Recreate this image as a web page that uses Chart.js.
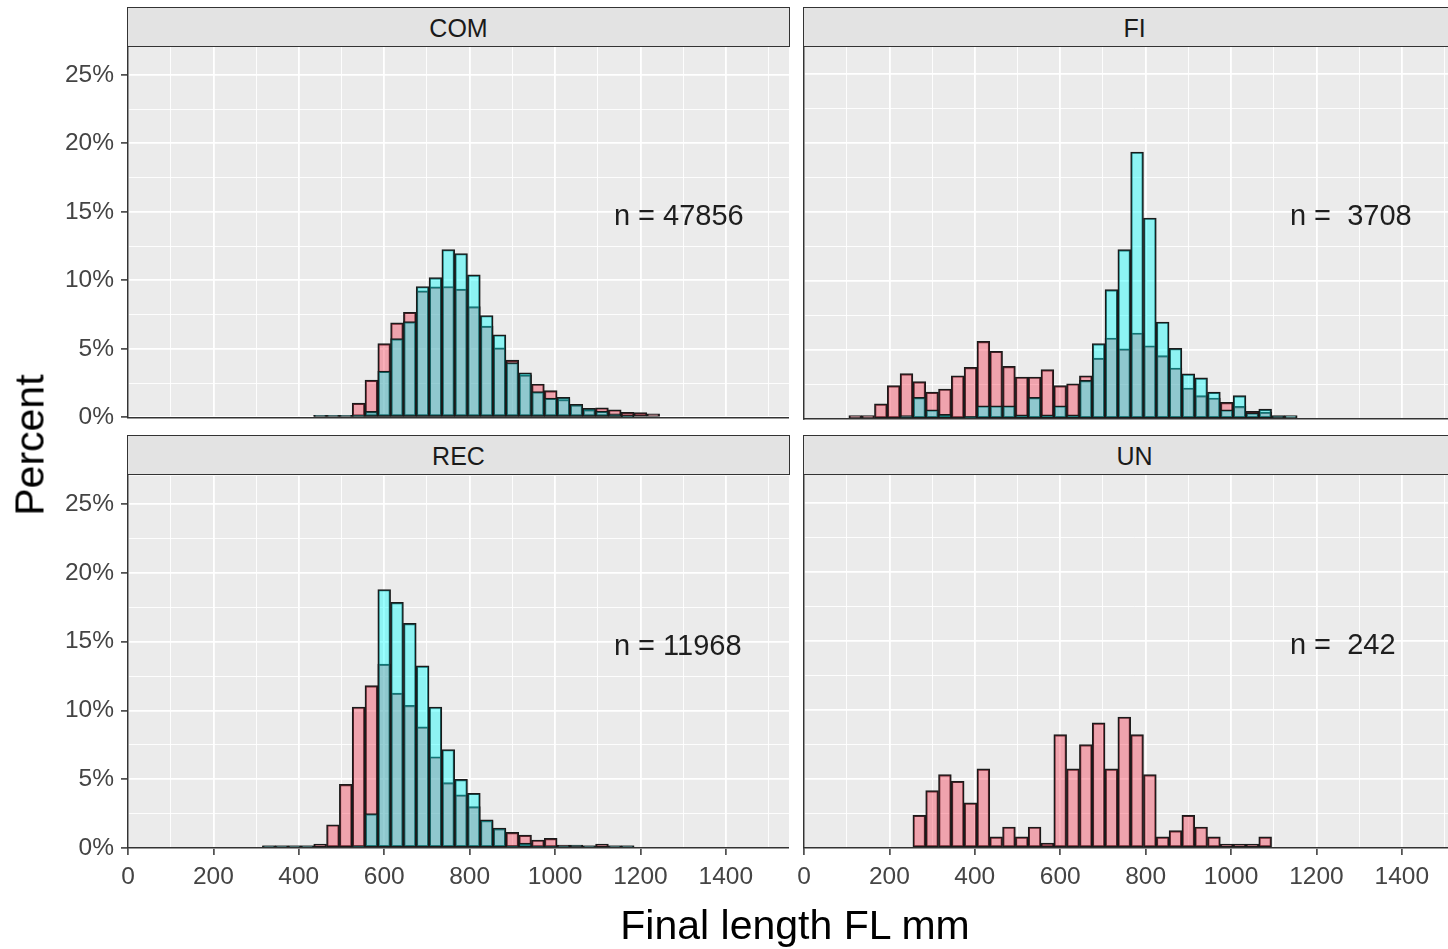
<!DOCTYPE html>
<html>
<head>
<meta charset="utf-8">
<script src="https://cdn.jsdelivr.net/npm/chart.js@4.4.0/dist/chart.umd.min.js"></script>
<style>
  html, body { margin: 0; padding: 0; background: #fff; }
  #wrap { position: relative; width: 1448px; height: 949px; overflow: hidden;
          font-family: "Liberation Sans", Arial, sans-serif; }
  canvas { position: absolute; }
  .strip { position: absolute; box-sizing: border-box; border: 1.5px solid #333;
           background: #e3e3e3; color: #1a1a1a; font-size: 25px; text-align: center;
           line-height: 41px; height: 40px; width: 663px; }
  .title { position: absolute; font-size: 41px; color: #000; white-space: nowrap;
           transform: translate(-50%, -50%); }
</style>
</head>
<body>
<div id="wrap">
  <canvas id="cCOM" width="789" height="414" style="left:0px;top:25px;width:789px;height:414px"></canvas>
  <canvas id="cFI" width="681" height="414" style="left:784px;top:25px;width:681px;height:414px"></canvas>
  <canvas id="cREC" width="789" height="454" style="left:0px;top:454px;width:789px;height:454px"></canvas>
  <canvas id="cUN" width="681" height="454" style="left:784px;top:454px;width:681px;height:454px"></canvas>
  <div class="title" style="left:30px;top:445px;transform:translate(-50%,-50%) rotate(-90deg)">Percent</div>
  <div class="title" style="left:795px;top:925px">Final length FL mm</div>
</div>
<script>
// facet names and n labels
const panels = ['COM', 'FI', 'REC', 'UN'];
const nLabels = ['n = 47856', 'n =  3708', 'n = 11968', 'n =  242'];

// tick labels
const xBreaks = [0, 200, 400, 600, 800, 1000, 1200, 1400];
const yBreaks = [0, 5, 10, 15, 20, 25];

// bin centres (30 mm bins) and percents, pink = first group, cyan = second group
const comBins = [450, 480, 510, 540, 570, 600, 630, 660, 690, 720, 750, 780, 810, 840, 870, 900, 930, 960, 990, 1020, 1050, 1080, 1110, 1140, 1170, 1200, 1230];
const comPink = [0.15, 0.15, 0.15, 1.03, 2.72, 5.38, 6.9, 7.67, 9.23, 9.52, 9.55, 9.36, 8.08, 6.66, 5.07, 4.17, 3.1, 2.43, 1.95, 1.3, 0.9, 0.55, 0.7, 0.55, 0.37, 0.35, 0.25];
const comCyan = [0.15, 0.15, 0.15, 0.15, 0.43, 3.37, 5.74, 6.99, 9.55, 10.2, 12.25, 11.96, 10.4, 7.43, 6.03, 4.0, 3.25, 1.88, 1.4, 1.45, 0.95, 0.65, 0.45, 0.25, 0.05, 0, 0];

const fiBins = [120, 150, 180, 210, 240, 270, 300, 330, 360, 390, 420, 450, 480, 510, 540, 570, 600, 630, 660, 690, 720, 750, 780, 810, 840, 870, 900, 930, 960, 990, 1020, 1050, 1080, 1110, 1140];
const fiPink = [0.24, 0.24, 1.1, 2.41, 3.28, 2.7, 1.95, 2.17, 3.13, 3.74, 5.62, 4.9, 3.81, 3.04, 3.04, 3.57, 2.41, 2.55, 3.13, 4.41, 5.86, 5.07, 6.22, 5.3, 4.58, 3.69, 2.24, 1.69, 1.52, 1.2, 0.91, 0.55, 0.5, 0.2, 0];
const fiCyan = [0, 0, 0, 0, 0.24, 1.57, 0.67, 0.33, 0.05, 0.2, 0.96, 0.96, 0.96, 0.31, 1.57, 0.31, 0.96, 0.31, 2.8, 5.45, 9.36, 12.25, 19.32, 14.54, 7.02, 5.11, 3.26, 2.97, 1.95, 0.67, 1.69, 0.45, 0.72, 0.24, 0.24];

const recBins = [330, 360, 390, 420, 450, 480, 510, 540, 570, 600, 630, 660, 690, 720, 750, 780, 810, 840, 870, 900, 930, 960, 990, 1020, 1050, 1080, 1110, 1140, 1170];
const recPink = [0.15, 0.15, 0.15, 0.15, 0.29, 1.69, 4.63, 10.25, 11.8, 13.36, 11.26, 10.37, 8.8, 6.63, 4.75, 3.86, 3.01, 2.0, 1.4, 1.13, 0.94, 0.58, 0.7, 0.22, 0.15, 0.15, 0.29, 0.15, 0.15];
const recCyan = [0.15, 0.15, 0.15, 0.15, 0.05, 0.05, 0.05, 0.15, 2.5, 18.79, 17.85, 16.33, 13.24, 10.25, 7.16, 4.99, 3.98, 2.05, 1.45, 0.15, 0.36, 0.1, 0.1, 0.15, 0.22, 0.15, 0.05, 0.15, 0.15];

const unBins = [270, 300, 330, 360, 390, 420, 450, 480, 510, 540, 570, 600, 630, 660, 690, 720, 750, 780, 810, 840, 870, 900, 930, 960, 990, 1020, 1050, 1080];
const unPink = [2.37, 4.15, 5.31, 4.83, 3.26, 5.72, 0.8, 1.52, 0.8, 1.52, 0.36, 8.2, 5.72, 7.48, 9.05, 5.72, 9.48, 8.2, 5.31, 0.8, 1.26, 2.37, 1.52, 0.8, 0.29, 0.29, 0.29, 0.8];

// strips
const stripPos = [[127, 6.5], [803, 6.5], [127, 434.5], [803, 434.5]];
const wrap = document.getElementById('wrap');
panels.forEach((p, i) => {
    const d = document.createElement('div');
    d.className = 'strip';
    d.style.left = stripPos[i][0] + 'px';
    d.style.top = stripPos[i][1] + 'px';
    d.textContent = p;
    wrap.appendChild(d);
});

const panelBg = {
    id: 'panelBg',
    beforeDraw(chart) {
        const {ctx, chartArea: a} = chart;
        ctx.save();
        ctx.fillStyle = '#ebebeb';
        ctx.fillRect(a.left, a.top, a.right - a.left, a.bottom - a.top);
        ctx.restore();
    }
};

const nLabel = {
    id: 'nLabel',
    afterDatasetsDraw(chart, args, opts) {
        const {ctx, scales} = chart;
        ctx.save();
        ctx.font = '29px "Liberation Sans", Arial, sans-serif';
        ctx.fillStyle = '#1e1e1e';
        ctx.textAlign = 'left';
        ctx.textBaseline = 'middle';
        ctx.fillText(opts.text, scales.x.getPixelForValue(1138), scales.y.getPixelForValue(15) + 5);
        ctx.restore();
    }
};

const tickFont = {family: '"Liberation Sans", Arial, sans-serif', size: 24.5};

function barSet(bins, vals, fill, order) {
    return {
        data: bins.map((b, i) => ({x: b, y: vals[i]})),
        backgroundColor: fill,
        borderColor: '#1a1a1a',
        borderWidth: 1.5,
        borderSkipped: false,
        grouped: false,
        categoryPercentage: 1,
        barPercentage: 1,
        order: order
    };
}

function makePanel(id, idx, bins, pink, cyan, leftCol, bottomRow) {
    const datasets = [barSet(bins, pink, 'rgba(245,55,80,0.4)', 2)];
    if (cyan) datasets.push(barSet(bins, cyan, 'rgba(0,255,255,0.4)', 1));

    new Chart(document.getElementById(id), {
        type: 'bar',
        data: {datasets: datasets},
        options: {
            responsive: false,
            animation: false,
            devicePixelRatio: 1,
            layout: {padding: {top: 20, left: leftCol ? 0 : 20, right: 0, bottom: 0}},
            plugins: {
                legend: {display: false},
                tooltip: {enabled: false},
                nLabel: {text: nLabels[idx]}
            },
            scales: {
                x: {
                    type: 'linear',
                    min: 0,
                    max: 1548,
                    offset: false,
                    afterFit: s => { s.height = bottomRow ? 60 : 20; },
                    grid: {
                        offset: false,
                        color: '#ffffff',
                        lineWidth: c => (c.tick && xBreaks.includes(c.tick.value)) ? 1.8 : 0.9,
                        drawTicks: bottomRow,
                        tickLength: 7,
                        tickWidth: 1.5,
                        tickColor: c => (c.tick && xBreaks.includes(c.tick.value)) ? '#333' : 'rgba(0,0,0,0)'
                    },
                    border: {display: true, color: '#333', width: 1.5, z: 1},
                    ticks: {
                        display: bottomRow,
                        stepSize: 100,
                        autoSkip: false,
                        maxRotation: 0,
                        includeBounds: false,
                        padding: 8,
                        color: '#444',
                        font: tickFont,
                        callback: v => xBreaks.includes(v) ? String(v) : ''
                    }
                },
                y: {
                    min: 0,
                    max: 27.06,
                    afterFit: s => { s.width = leftCol ? 128 : 0; },
                    grid: {
                        color: '#ffffff',
                        lineWidth: c => (c.tick && yBreaks.includes(c.tick.value)) ? 1.8 : 0.9,
                        drawTicks: leftCol,
                        tickLength: 7,
                        tickWidth: 1.5,
                        tickColor: c => (c.tick && yBreaks.includes(c.tick.value)) ? '#333' : 'rgba(0,0,0,0)'
                    },
                    border: {display: true, color: '#333', width: 1.5, z: 1},
                    ticks: {
                        display: leftCol,
                        stepSize: 2.5,
                        autoSkip: false,
                        includeBounds: false,
                        padding: 7,
                        color: '#444',
                        font: tickFont,
                        callback: v => yBreaks.includes(v) ? v + '%' : ''
                    }
                }
            }
        },
        plugins: [panelBg, nLabel]
    });
}

makePanel('cCOM', 0, comBins, comPink, comCyan, true, false);
makePanel('cFI', 1, fiBins, fiPink, fiCyan, false, false);
makePanel('cREC', 2, recBins, recPink, recCyan, true, true);
makePanel('cUN', 3, unBins, unPink, null, false, true);
</script>
</body>
</html>
